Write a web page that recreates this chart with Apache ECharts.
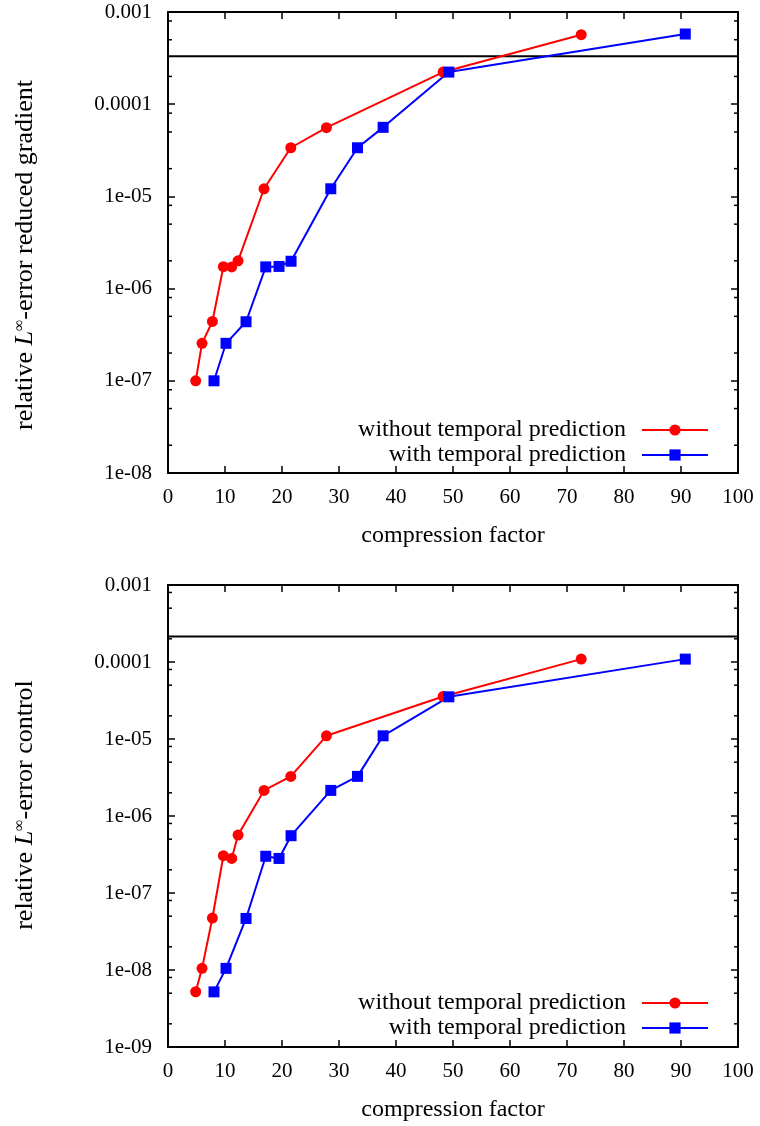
<!DOCTYPE html>
<html>
<head>
<meta charset="utf-8">
<script src="https://cdn.jsdelivr.net/npm/echarts@6/dist/echarts.min.js"></script>
<style>
  html, body { margin: 0; padding: 0; background: #fff; }
  #chart { width: 760px; height: 1126px; }
</style>
</head>
<body>
<div id="chart"></div>
<script>
// Compression factor (x) for both runs
const compressionWithout = [4.86, 5.97, 7.79, 9.72, 11.18, 12.29, 16.85, 21.54, 27.8, 48.27, 72.49];
const compressionWith    = [8.07, 10.18, 13.69, 17.15, 19.48, 21.59, 28.56, 33.25, 37.74, 49.27, 90.75];

// Relative L-infinity error of the reduced gradient
const gradErrWithout = [1.0e-7, 2.55e-7, 4.4e-7, 1.73e-6, 1.72e-6, 2.0e-6, 1.21e-5, 3.37e-5, 5.56e-5, 2.23e-4, 5.67e-4];
const gradErrWith    = [1.0e-7, 2.55e-7, 4.37e-7, 1.72e-6, 1.74e-6, 1.98e-6, 1.21e-5, 3.37e-5, 5.61e-5, 2.23e-4, 5.77e-4];

// Relative L-infinity error of the control
const ctrlErrWithout = [5.22e-9, 1.05e-8, 4.73e-8, 3.05e-7, 2.81e-7, 5.66e-7, 2.15e-6, 3.27e-6, 1.10e-5, 3.57e-5, 1.09e-4];
const ctrlErrWith    = [5.2e-9, 1.05e-8, 4.67e-8, 3.0e-7, 2.81e-7, 5.55e-7, 2.15e-6, 3.27e-6, 1.10e-5, 3.53e-5, 1.09e-4];

// Tolerance levels drawn as horizontal reference lines
const gradTolerance = 3.31e-4;
const ctrlTolerance = 2.15e-4;

// Axis ranges and tick labels
const xRange = [0, 100];
const xTickLabels = ['0', '10', '20', '30', '40', '50', '60', '70', '80', '90', '100'];
const yTickLabels = {
  '-3': '0.001', '-4': '0.0001', '-5': '1e-05', '-6': '1e-06',
  '-7': '1e-07', '-8': '1e-08', '-9': '1e-09'
};
const minorMantissas = [2, 5, 8];

const seriesNames = ['without temporal prediction', 'with temporal prediction'];

const FONT = 'Liberation Serif';
const NUM_SIZE = 21;
const TXT_SIZE = 24;
const YNAME_SIZE = 26;

function pairs(xs, ys) { return xs.map((x, i) => [x, ys[i]]); }

function minorValues(lowExp, highExp) {
  const out = [];
  for (let e = lowExp; e < highExp; e++) {
    minorMantissas.forEach(m => out.push([xRange[0], m * Math.pow(10, e)]));
  }
  return out;
}

function yLabel(v) {
  const e = Math.round(Math.log10(v));
  return yTickLabels[String(e)] || '';
}

const richName = {
  n: { fontFamily: FONT, fontSize: YNAME_SIZE, color: '#000' },
  i: { fontFamily: FONT, fontSize: YNAME_SIZE, fontStyle: 'italic', color: '#000' },
  s: { fontFamily: FONT, fontSize: 16, color: '#000', verticalAlign: 'top' }
};

const grids = [
  { left: 168, top: 12, right: 22, height: 461 },
  { left: 168, top: 585, right: 22, height: 462 }
];

function xAxes(gi) {
  const common = {
    gridIndex: gi, type: 'value', min: xRange[0], max: xRange[1], interval: 10,
    axisLine: { show: true, onZero: false, lineStyle: { color: '#000', width: 2 } },
    axisTick: { show: true, inside: true, length: 7, lineStyle: { color: '#000', width: 1.5 } },
    splitLine: { show: false }
  };
  return [
    Object.assign({}, common, {
      position: 'bottom',
      name: 'compression factor',
      nameLocation: 'middle',
      nameGap: 51,
      nameTextStyle: { fontFamily: FONT, fontSize: TXT_SIZE, color: '#000' },
      axisLabel: {
        margin: 14, fontFamily: FONT, fontSize: NUM_SIZE, color: '#000',
        formatter: v => xTickLabels[Math.round(v / 10)]
      }
    }),
    Object.assign({}, common, { position: 'top', axisLabel: { show: false } })
  ];
}

function yAxes(gi, minV, maxV, nameRich, padding) {
  const common = {
    gridIndex: gi, type: 'log', logBase: 10, min: minV, max: maxV,
    splitNumber: Math.round(Math.log10(maxV / minV)),
    axisLine: { show: true, onZero: false, lineStyle: { color: '#000', width: 2 } },
    axisTick: { show: true, inside: true, length: 7, lineStyle: { color: '#000', width: 1.5 } },
    minorTick: { show: false },
    splitLine: { show: false }
  };
  return [
    Object.assign({}, common, {
      position: 'left',
      name: nameRich,
      nameLocation: 'middle',
      nameRotate: 90,
      nameGap: 130,
      nameTextStyle: { rich: richName, padding: padding },
      axisLabel: {
        margin: 16, fontFamily: FONT, fontSize: NUM_SIZE, color: '#000',
        showMinLabel: true, showMaxLabel: true,
        formatter: yLabel
      }
    }),
    Object.assign({}, common, { position: 'right', axisLabel: { show: false } })
  ];
}

function lineSeries(name, color, symbol, data, xi, yi) {
  return {
    name: name, type: 'line', xAxisIndex: xi, yAxisIndex: yi,
    data: data, symbol: symbol, symbolSize: 11, showSymbol: true,
    lineStyle: { color: color, width: 2 },
    itemStyle: { color: color },
    z: 3
  };
}

// Horizontal tolerance line across the whole x range
function toleranceSeries(tol, xi, yi) {
  return {
    type: 'line', xAxisIndex: xi, yAxisIndex: yi, silent: true,
    data: [[xRange[0], tol], [xRange[1], tol]],
    symbol: 'none', showSymbol: false,
    lineStyle: { color: '#000', width: 2 },
    z: 2
  };
}

// Short ticks at 2, 5 and 8 within each decade on both vertical borders
function minorTickSeries(xi, yi, data) {
  return {
    type: 'custom', xAxisIndex: xi, yAxisIndex: yi, silent: true, z: 4,
    data: data,
    renderItem: function (params, api) {
      const v = api.value(1);
      const l = api.coord([xRange[0], v]);
      const r = api.coord([xRange[1], v]);
      const st = { stroke: '#000', lineWidth: 1.5 };
      return {
        type: 'group',
        children: [
          { type: 'line', shape: { x1: l[0], y1: l[1], x2: l[0] + 4, y2: l[1] }, style: st },
          { type: 'line', shape: { x1: r[0] - 4, y1: r[1], x2: r[0], y2: r[1] }, style: st }
        ]
      };
    }
  };
}

function legendFor(top) {
  return {
    orient: 'vertical', align: 'right', right: 46, top: top,
    itemWidth: 66, itemHeight: 14, itemGap: 1,
    selectedMode: false,
    textStyle: { fontFamily: FONT, fontSize: TXT_SIZE, color: '#000', padding: [0, 11, 0, 0] },
    data: seriesNames
  };
}

const option = {
  animation: false,
  backgroundColor: '#fff',
  grid: grids,
  legend: [legendFor(413), legendFor(986)],
  xAxis: xAxes(0).concat(xAxes(1)),
  yAxis: yAxes(0, 1e-8, 1e-3, '{n|relative }{i|L}{s|∞}{n|-error reduced gradient}', [0, 25, 0, 0])
    .concat(yAxes(1, 1e-9, 1e-3, '{n|relative }{i|L}{s|∞}{n|-error control}', [0, 0, 0, 22])),
  series: [
    toleranceSeries(gradTolerance, 0, 0),
    toleranceSeries(ctrlTolerance, 2, 2),
    lineSeries(seriesNames[0], '#ff0000', 'circle', pairs(compressionWithout, gradErrWithout), 0, 0),
    lineSeries(seriesNames[1], '#0000ff', 'rect', pairs(compressionWith, gradErrWith), 0, 0),
    lineSeries(seriesNames[0], '#ff0000', 'circle', pairs(compressionWithout, ctrlErrWithout), 2, 2),
    lineSeries(seriesNames[1], '#0000ff', 'rect', pairs(compressionWith, ctrlErrWith), 2, 2),
    minorTickSeries(0, 0, minorValues(-8, -3)),
    minorTickSeries(2, 2, minorValues(-9, -3))
  ]
};

const chart = echarts.init(document.getElementById('chart'), null, { renderer: 'canvas' });
chart.setOption(option);
</script>
</body>
</html>
